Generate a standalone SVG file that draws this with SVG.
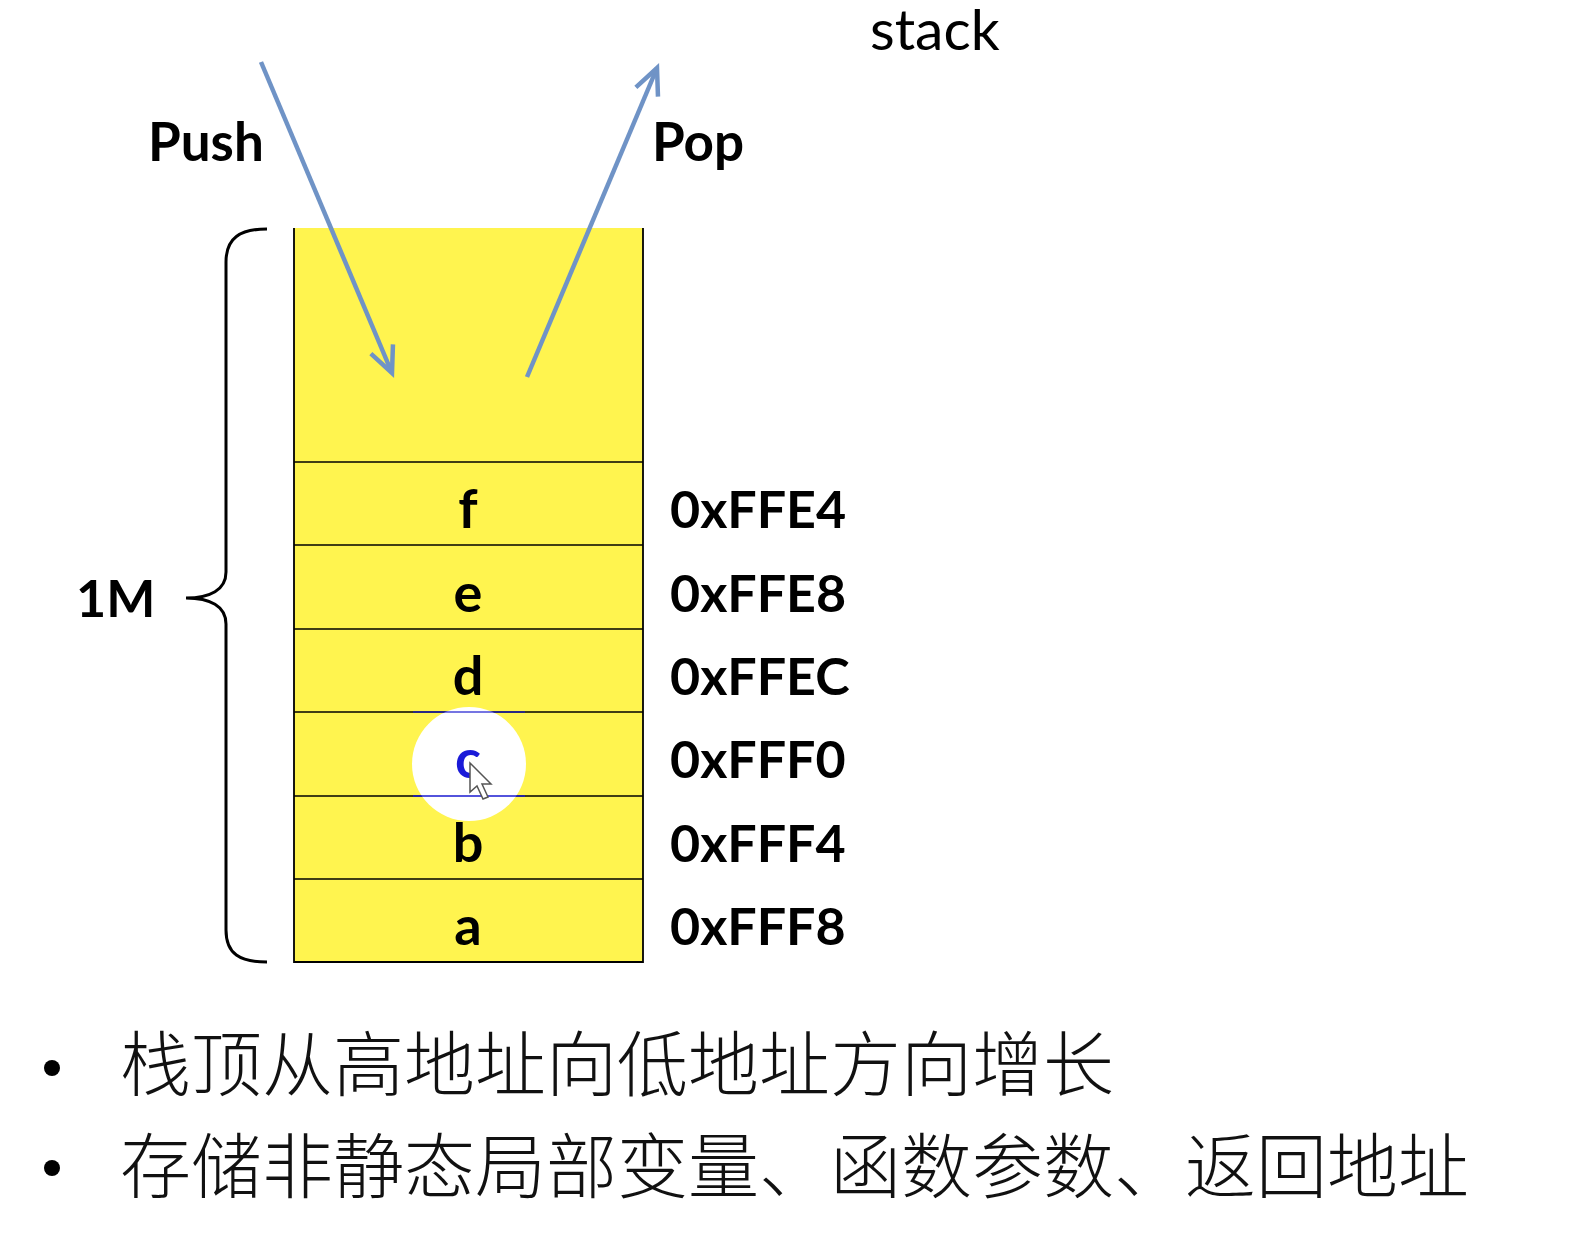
<svg xmlns="http://www.w3.org/2000/svg" width="1574" height="1242" viewBox="0 0 1574 1242">
<defs>
<style>
.lbl{font-family:Lato,"Open Sans","Liberation Sans",sans-serif;font-weight:bold;font-size:52px;fill:#000}
.cell{font-family:Lato,"Open Sans","Liberation Sans",sans-serif;font-weight:bold;font-size:54px;fill:#000;text-anchor:middle}
.row{stroke:#000;stroke-width:1.5}
.arr{stroke:#6f93c6;stroke-width:4.5;fill:none}
.cn{font-family:"Noto Sans CJK SC",sans-serif;font-size:71px;fill:#111;font-weight:300}
</style>
<marker id="ah" markerUnits="userSpaceOnUse" markerWidth="40" markerHeight="40" refX="28" refY="15" orient="auto" viewBox="0 0 40 30">
<path d="M2,3 L28,15 L2,27" fill="none" stroke="#6f93c6" stroke-width="4.5"/>
</marker>
</defs>
<rect width="1574" height="1242" fill="#fff"/>
<text x="870" y="50" font-family="Lato,'Open Sans','Liberation Sans',sans-serif" font-size="57" fill="#000">stack</text>
<g id="stack">
<rect x="294" y="228" width="349" height="734" fill="#fff44f"/>
<path d="M294,228 V962 H643 V228" fill="none" stroke="#000" stroke-width="1.8"/>
<line class="row" x1="294" y1="462" x2="643" y2="462"/>
<line class="row" x1="294" y1="545" x2="643" y2="545"/>
<line class="row" x1="294" y1="629" x2="643" y2="629"/>
<line class="row" x1="294" y1="712" x2="643" y2="712"/>
<line class="row" x1="294" y1="796" x2="643" y2="796"/>
<line class="row" x1="294" y1="879" x2="643" y2="879"/>
</g>
<g id="cursor-spot">
<circle cx="469" cy="764" r="57" fill="#fff"/>
<line x1="413" y1="712" x2="525" y2="712" stroke="#1a1ad0" stroke-width="1.5" opacity="0.8"/>
<line x1="413" y1="796" x2="525" y2="796" stroke="#1a1ad0" stroke-width="1.5"/>
</g>
<g id="cells">
<text class="cell" x="468" y="528">f</text>
<text class="cell" x="468" y="612">e</text>
<text class="cell" x="468" y="695">d</text>
<text class="cell" x="468" y="778" style="fill:#1a1ad8">c</text>
<text class="cell" x="468" y="862">b</text>
<text class="cell" x="468" y="945">a</text>
</g>
<path d="M470,763 L470,792 L477,786 L483,799 L488,797 L482,784 L491,784 Z" fill="#fff" stroke="#555" stroke-width="1.5"/>
<g id="addresses">
<text class="lbl" x="670" y="528">0xFFE4</text>
<text class="lbl" x="670" y="612">0xFFE8</text>
<text class="lbl" x="670" y="695">0xFFEC</text>
<text class="lbl" x="670" y="778">0xFFF0</text>
<text class="lbl" x="670" y="862">0xFFF4</text>
<text class="lbl" x="670" y="945">0xFFF8</text>
</g>
<g id="brace">
<path d="M267,229 C240,229 226,238 226,262 L226,572 C226,590 210,598 186,598 C210,598 226,606 226,624 L226,930 C226,954 240,962 267,962" fill="none" stroke="#000" stroke-width="3"/>
<text class="lbl" x="76" y="617">1M</text>
</g>
<g id="connectors">
<line class="arr" x1="261" y1="62" x2="392" y2="373" marker-end="url(#ah)"/>
<line class="arr" x1="527" y1="377" x2="657" y2="68" marker-end="url(#ah)"/>
</g>
<text class="lbl" x="148" y="161" style="font-size:53px">Push</text>
<text class="lbl" x="652" y="161" style="font-size:53px">Pop</text>
<g id="bullets">
<circle cx="52" cy="1068" r="8" fill="#000"/>
<text class="cn" x="120" y="1090">栈顶从高地址向低地址方向增长</text>
<circle cx="52" cy="1168" r="8" fill="#000"/>
<text class="cn" x="120" y="1192">存储非静态局部变量、函数参数、返回地址</text>
</g>
</svg>
